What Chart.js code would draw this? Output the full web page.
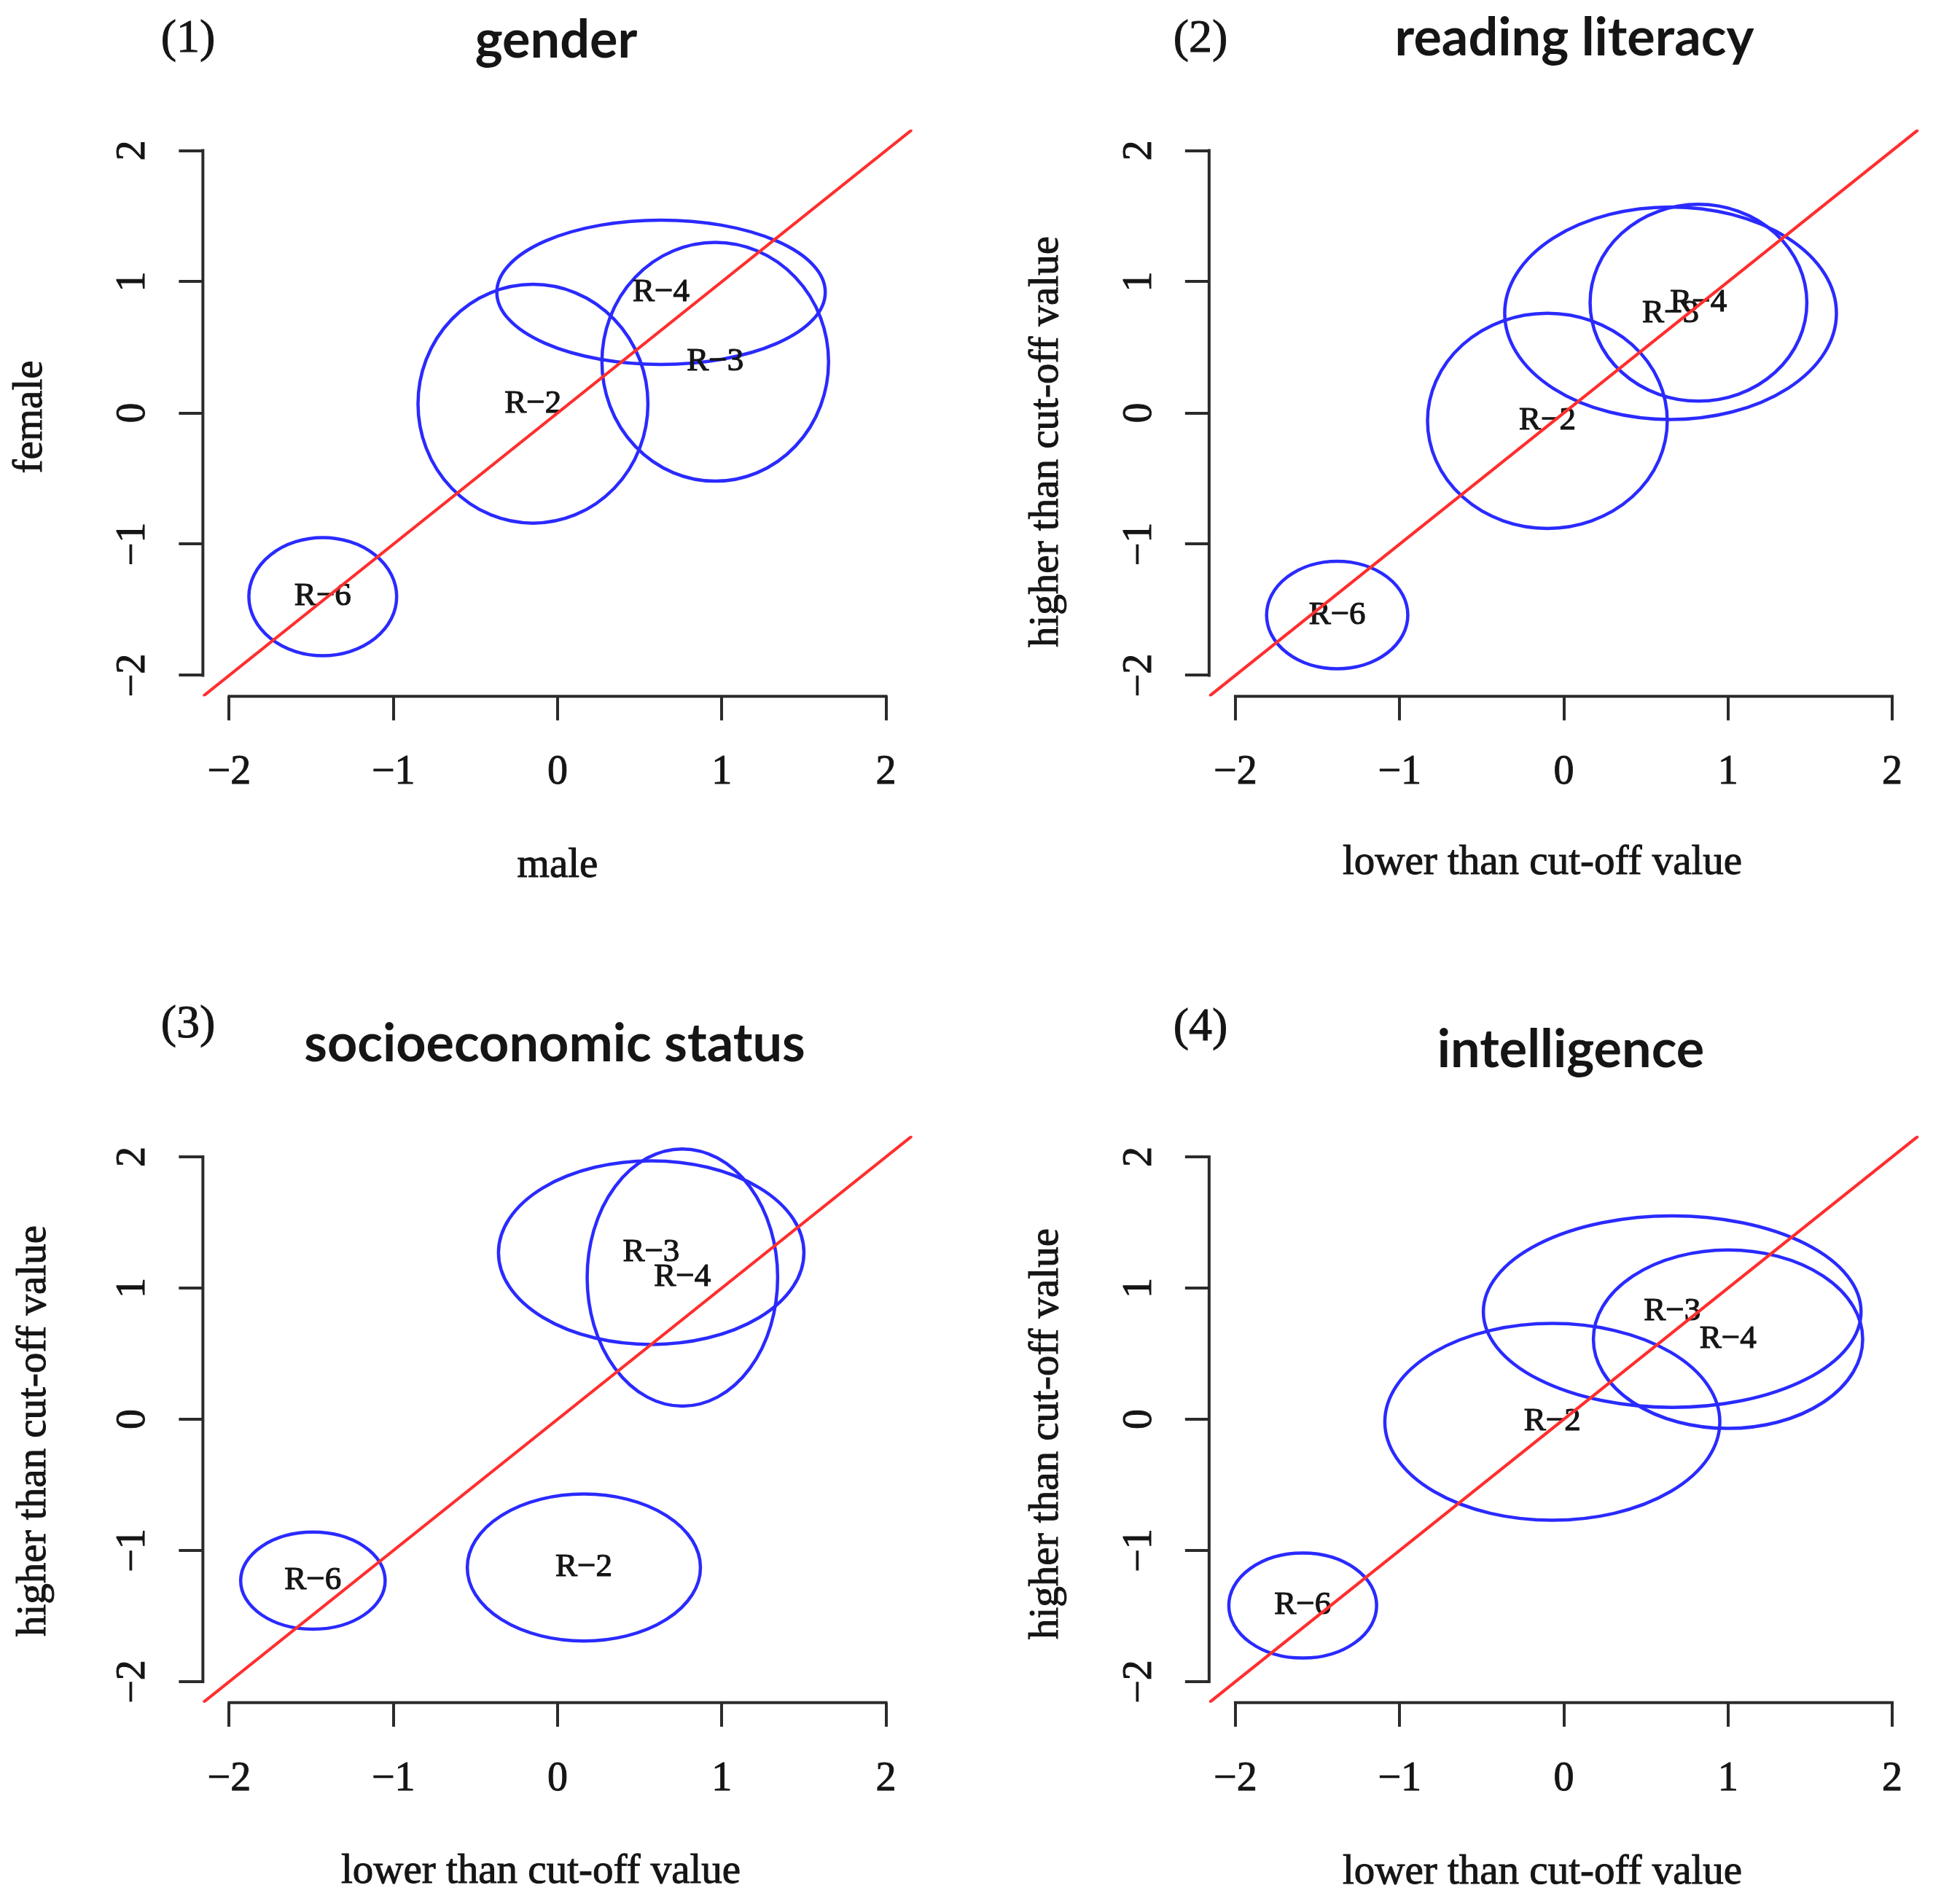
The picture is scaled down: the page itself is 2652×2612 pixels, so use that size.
<!DOCTYPE html>
<html>
<head>
<meta charset="utf-8">
<script src="https://cdn.jsdelivr.net/npm/chart.js@4.4.1/dist/chart.umd.min.js"></script>
<style>
  html, body { margin: 0; padding: 0; background: #fff; }
  #page { position: relative; width: 2652px; height: 2612px; background: #fff; }
  canvas { position: absolute; }
</style>
</head>
<body>
<div id="page">
  <canvas id="panel1" width="1326" height="1306" style="left:0px;top:0px"></canvas>
  <canvas id="panel2" width="1326" height="1306" style="left:1326px;top:0px"></canvas>
  <canvas id="panel3" width="1326" height="1306" style="left:0px;top:1306px"></canvas>
  <canvas id="panel4" width="1326" height="1306" style="left:1326px;top:1306px"></canvas>
</div>
<script>
// axis ticks and the identity line
const tickValues = [-2, -1, 0, 1, 2];
const diagonalLine = [-3, 3];
const regionLabels = ['R−2', 'R−3', 'R−4', 'R−6'];

// (1) gender
const genderCenterX = [-0.15, 0.96, 0.63, -1.43];
const genderCenterY = [0.07, 0.39, 0.92, -1.40];
const genderRadiusX = [0.70, 0.69, 1.00, 0.45];
const genderRadiusY = [0.91, 0.91, 0.55, 0.45];

// (2) reading literacy
const readingCenterX = [-0.10, 0.65, 0.82, -1.38];
const readingCenterY = [-0.06, 0.76, 0.84, -1.54];
const readingRadiusX = [0.73, 1.01, 0.66, 0.43];
const readingRadiusY = [0.82, 0.81, 0.75, 0.41];

// (3) socioeconomic status
const sesCenterX = [0.16, 0.57, 0.76, -1.49];
const sesCenterY = [-1.13, 1.27, 1.08, -1.23];
const sesRadiusX = [0.71, 0.93, 0.58, 0.44];
const sesRadiusY = [0.56, 0.70, 0.98, 0.37];

// (4) intelligence
const iqCenterX = [-0.07, 0.66, 1.00, -1.59];
const iqCenterY = [-0.02, 0.82, 0.61, -1.42];
const iqRadiusX = [1.02, 1.15, 0.82, 0.45];
const iqRadiusY = [0.75, 0.73, 0.68, 0.40];

const BLUE = '#2a2aff';
const RED = '#ff2e2e';
const AXIS = '#2b2b2b';
const INK = '#151515';
const SERIF = '"Liberation Serif", "Times New Roman", serif';

const CANVAS_W = 1326;
const CANVAS_H = 1306;
const UNIT_X = 225.3;
const UNIT_Y = 180;
const LIMIT = 2.16;
const Y_SCALE_W = 200;
const X_SCALE_H = 250;

const panels = [
    {
        id: 'panel1', number: '(1)', title: 'gender', xTitle: 'male', yTitle: 'female',
        cx: genderCenterX, cy: genderCenterY, rx: genderRadiusX, ry: genderRadiusY,
        x0: 765, y0: 566.5,
        numberPos: [258, 54], titlePos: [763, 79], xTitlePos: [765, 1188], yTitlePos: [42, 572]
    },
    {
        id: 'panel2', number: '(2)', title: 'reading literacy',
        xTitle: 'lower than cut-off value', yTitle: 'higher than cut-off value',
        cx: readingCenterX, cy: readingCenterY, rx: readingRadiusX, ry: readingRadiusY,
        x0: 819.5, y0: 566.5,
        numberPos: [321, 54], titlePos: [834, 76], xTitlePos: [790, 1184], yTitlePos: [110, 606]
    },
    {
        id: 'panel3', number: '(3)', title: 'socioeconomic status',
        xTitle: 'lower than cut-off value', yTitle: 'higher than cut-off value',
        cx: sesCenterX, cy: sesCenterY, rx: sesRadiusX, ry: sesRadiusY,
        x0: 765, y0: 641,
        numberPos: [258, 100], titlePos: [761, 150], xTitlePos: [742, 1262], yTitlePos: [47, 657]
    },
    {
        id: 'panel4', number: '(4)', title: 'intelligence',
        xTitle: 'lower than cut-off value', yTitle: 'higher than cut-off value',
        cx: iqCenterX, cy: iqCenterY, rx: iqRadiusX, ry: iqRadiusY,
        x0: 819.5, y0: 641,
        numberPos: [321, 104], titlePos: [829, 158], xTitlePos: [790, 1263], yTitlePos: [110, 661]
    }
];

function fmt(v) {
    return String(v).replace('-', '\u2212');
}

// the scanned figure is a little blurred, so serif text gets a hairline stroke
function heavyText(ctx, text, x, y) {
    ctx.strokeText(text, x, y);
    ctx.fillText(text, x, y);
}

// ellipses and their labels, drawn before the red line
const ellipsePlugin = {
    id: 'ellipses',
    beforeDatasetsDraw(chart) {
        const {ctx, chartArea, scales: {x, y}} = chart;
        const ds = chart.data.datasets.find(d => d.ellipses);
        ctx.save();
        ctx.beginPath();
        ctx.rect(chartArea.left, chartArea.top, chartArea.right - chartArea.left, chartArea.bottom - chartArea.top);
        ctx.clip();
        ctx.strokeStyle = BLUE;
        ctx.lineWidth = 4.5;
        ds.data.forEach(p => {
            const px = x.getPixelForValue(p.x);
            const py = y.getPixelForValue(p.y);
            const rx = Math.abs(x.getPixelForValue(p.x + p.rx) - px);
            const ry = Math.abs(y.getPixelForValue(p.y + p.ry) - py);
            ctx.beginPath();
            ctx.ellipse(px, py, rx, ry, 0, 0, Math.PI * 2);
            ctx.stroke();
        });
        ctx.fillStyle = INK;
        ctx.strokeStyle = INK;
        ctx.lineWidth = 1.2;
        ctx.font = '45px ' + SERIF;
        ctx.textAlign = 'center';
        ctx.textBaseline = 'middle';
        ds.data.forEach(p => {
            heavyText(ctx, p.label, x.getPixelForValue(p.x), y.getPixelForValue(p.y));
        });
        ctx.restore();
    }
};

// R-style axes: line from first to last tick, labels and titles
const textPlugin = {
    id: 'panelText',
    afterDraw(chart) {
        const cfg = chart.options.plugins.panelText;
        const {ctx, chartArea, scales: {x, y}} = chart;
        ctx.save();
        ctx.strokeStyle = AXIS;
        ctx.lineWidth = 4;
        ctx.lineCap = 'square';
        ctx.beginPath();
        ctx.moveTo(x.getPixelForValue(tickValues[0]), chartArea.bottom);
        ctx.lineTo(x.getPixelForValue(tickValues[tickValues.length - 1]), chartArea.bottom);
        ctx.moveTo(chartArea.left, y.getPixelForValue(tickValues[0]));
        ctx.lineTo(chartArea.left, y.getPixelForValue(tickValues[tickValues.length - 1]));
        ctx.stroke();

        ctx.fillStyle = INK;
        ctx.strokeStyle = INK;
        ctx.lineWidth = 1;
        ctx.textAlign = 'center';
        ctx.textBaseline = 'middle';
        ctx.font = '56px ' + SERIF;
        x.ticks.forEach(t => {
            heavyText(ctx, fmt(t.value), x.getPixelForValue(t.value), chartArea.bottom + 105);
        });
        y.ticks.forEach(t => {
            ctx.save();
            ctx.translate(chartArea.left - 95, y.getPixelForValue(t.value));
            ctx.rotate(-Math.PI / 2);
            heavyText(ctx, fmt(t.value), 0, 0);
            ctx.restore();
        });

        ctx.font = '57px ' + SERIF;
        heavyText(ctx, cfg.xTitle, cfg.xTitlePos[0], cfg.xTitlePos[1]);
        ctx.save();
        ctx.translate(cfg.yTitlePos[0], cfg.yTitlePos[1]);
        ctx.rotate(-Math.PI / 2);
        heavyText(ctx, cfg.yTitle, 0, 0);
        ctx.restore();

        ctx.font = '64px ' + SERIF;
        heavyText(ctx, cfg.number, cfg.numberPos[0], cfg.numberPos[1]);

        ctx.font = 'bold 72px Lato, "Open Sans", sans-serif';
        ctx.textBaseline = 'alphabetic';
        ctx.fillText(cfg.title, cfg.titlePos[0], cfg.titlePos[1]);
        ctx.restore();
    }
};

function axisOptions(fitFn) {
    return {
        type: 'linear',
        min: -LIMIT,
        max: LIMIT,
        afterBuildTicks: scale => { scale.ticks = tickValues.map(v => ({value: v})); },
        afterFit: fitFn,
        border: {display: false},
        grid: {
            drawOnChartArea: false,
            drawTicks: true,
            tickLength: 33,
            lineWidth: 4,
            color: AXIS
        },
        ticks: {display: false}
    };
}

function makePanel(p) {
    const left = p.x0 - LIMIT * UNIT_X;
    const right = p.x0 + LIMIT * UNIT_X;
    const top = p.y0 - LIMIT * UNIT_Y;
    const bottom = p.y0 + LIMIT * UNIT_Y;

    const centres = p.cx.map((cx, i) => ({x: cx, y: p.cy[i], rx: p.rx[i], ry: p.ry[i], label: regionLabels[i]}));

    const ctx = document.getElementById(p.id).getContext('2d');
    return new Chart(ctx, {
        type: 'scatter',
        data: {
            datasets: [
                {
                    label: 'groups',
                    ellipses: true,
                    data: centres,
                    pointRadius: 0,
                    pointHoverRadius: 0
                },
                {
                    type: 'line',
                    label: 'identity',
                    data: diagonalLine.map(v => ({x: v, y: v})),
                    borderColor: RED,
                    borderWidth: 4.2,
                    pointRadius: 0,
                    fill: false,
                    tension: 0
                }
            ]
        },
        options: {
            responsive: false,
            animation: false,
            devicePixelRatio: 1,
            events: [],
            layout: {
                padding: {
                    left: left - Y_SCALE_W,
                    right: CANVAS_W - right,
                    top: top,
                    bottom: CANVAS_H - bottom - X_SCALE_H
                }
            },
            plugins: {
                legend: {display: false},
                tooltip: {enabled: false},
                panelText: {
                    number: p.number, title: p.title, xTitle: p.xTitle, yTitle: p.yTitle,
                    numberPos: p.numberPos, titlePos: p.titlePos,
                    xTitlePos: p.xTitlePos, yTitlePos: p.yTitlePos
                }
            },
            scales: {
                x: axisOptions(scale => { scale.height = X_SCALE_H; }),
                y: axisOptions(scale => { scale.width = Y_SCALE_W; })
            }
        },
        plugins: [ellipsePlugin, textPlugin]
    });
}

document.addEventListener('DOMContentLoaded', () => {
    panels.forEach(makePanel);
});
</script>
</body>
</html>
